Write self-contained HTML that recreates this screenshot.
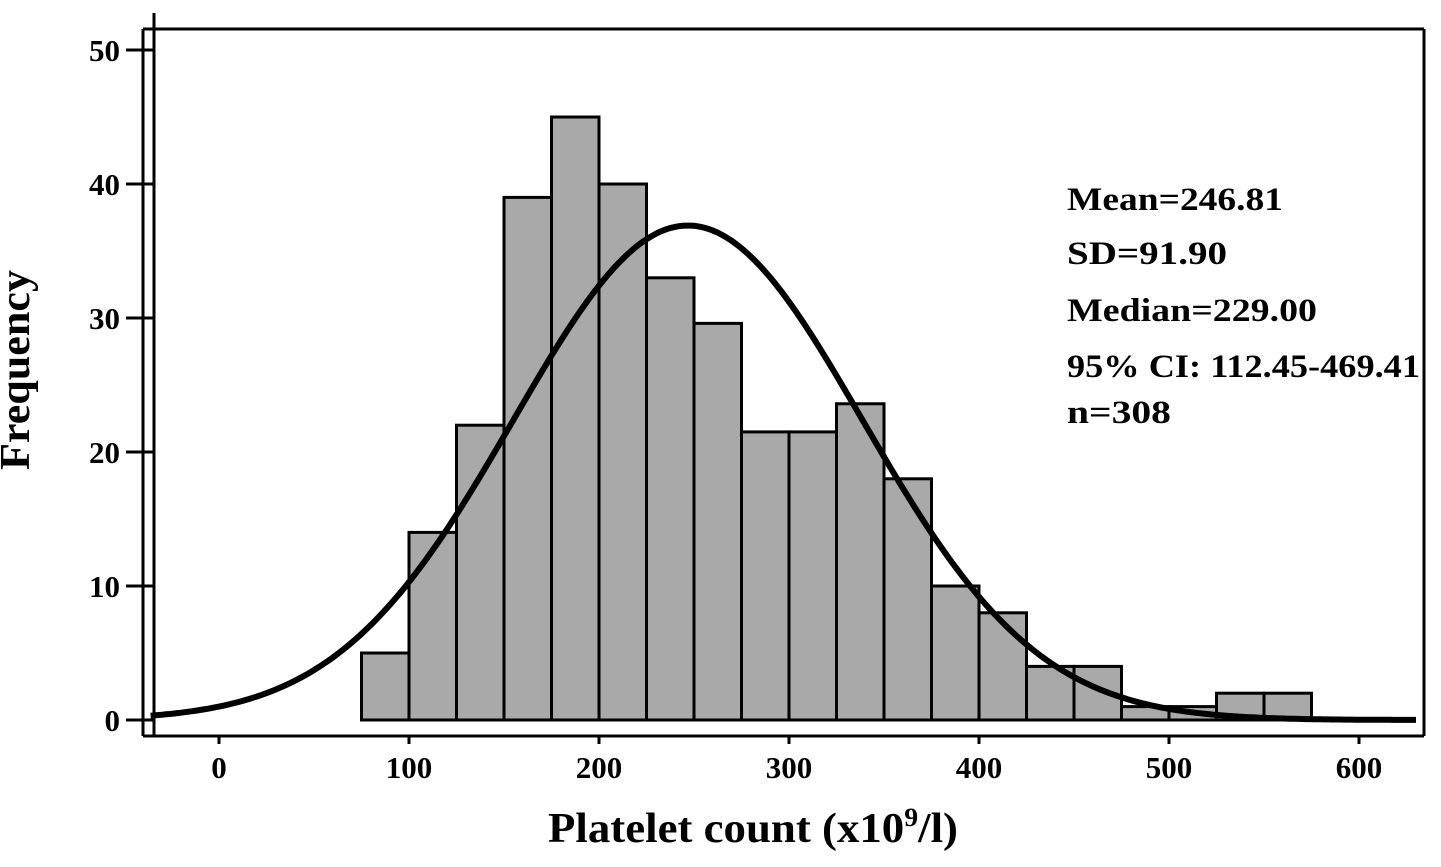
<!DOCTYPE html>
<html><head><meta charset="utf-8"><style>
body{margin:0;background:#fff;}
svg text{font-family:"Liberation Serif",serif;font-weight:bold;fill:#000;}
</style></head><body>
<svg id="chart" width="1441" height="862">
<g id="bars"></g>
<path id="curve" fill="none" stroke="#000" stroke-width="6"/>
<line x1="143" y1="29" x2="1424" y2="29" stroke="#000" stroke-width="3"/>
<line x1="1424" y1="29" x2="1424" y2="736" stroke="#000" stroke-width="3"/>
<line x1="143" y1="29" x2="143" y2="736" stroke="#000" stroke-width="3"/>
<line x1="154" y1="13" x2="154" y2="736" stroke="#000" stroke-width="3"/>
<line x1="143" y1="736" x2="1424" y2="736" stroke="#000" stroke-width="3"/>
<g id="yticks"></g>
<g id="xticks"></g>
<text x="29" y="370" font-size="42" text-anchor="middle" textLength="200" lengthAdjust="spacingAndGlyphs" transform="rotate(-90 29 370)">Frequency</text>
<text x="548" y="842" font-size="42" textLength="410" lengthAdjust="spacingAndGlyphs">Platelet count (x10<tspan font-size="26" dy="-16">9</tspan><tspan dy="16">/l)</tspan></text>
<g font-size="33">
<text x="1067" y="210" textLength="216" lengthAdjust="spacingAndGlyphs">Mean=246.81</text>
<text x="1067" y="264" textLength="160" lengthAdjust="spacingAndGlyphs">SD=91.90</text>
<text x="1067" y="321" textLength="250" lengthAdjust="spacingAndGlyphs">Median=229.00</text>
<text x="1067" y="377" textLength="353" lengthAdjust="spacingAndGlyphs">95% CI: 112.45-469.41</text>
<text x="1067" y="423" textLength="104" lengthAdjust="spacingAndGlyphs">n=308</text>
</g>
</svg>
<script>
const binStarts=[75,100,125,150,175,200,225,250,275,300,325,350,375,400,425,450,475,500,525,550];
const counts=[5,14,22,39,45,40,33,29.6,21.5,21.5,23.6,18,10,8,4,4,1,1,2,2];
const binWidth=25;
const yTicks=[0,10,20,30,40,50];
const xTicks=[0,100,200,300,400,500,600];
const mean=246.81, sd=91.9, curvePeak=36.9;
const NS='http://www.w3.org/2000/svg';
const xs=v=>219+v*1.9;
const ys=v=>720-v*13.4;
const bars=document.getElementById('bars');
binStarts.forEach((b,i)=>{
 const r=document.createElementNS(NS,'rect');
 const x0=xs(b),x1=xs(b+binWidth);
 r.setAttribute('x',x0);r.setAttribute('y',ys(counts[i]));
 r.setAttribute('width',x1-x0);r.setAttribute('height',ys(0)-ys(counts[i]));
 r.setAttribute('fill','#a9a9a9');r.setAttribute('stroke','#000');r.setAttribute('stroke-width','3');
 
 
 bars.appendChild(r);
});
let d='';
for(let v=-36;v<=630;v+=2){const y=curvePeak*Math.exp(-0.5*((v-mean)/sd)**2);d+=(d?'L':'M')+xs(v).toFixed(1)+' '+ys(y).toFixed(1);}
document.getElementById('curve').setAttribute('d',d);
const yt=document.getElementById('yticks');
yTicks.forEach(t=>{
 const l=document.createElementNS(NS,'line');
 l.setAttribute('x1',126);l.setAttribute('x2',154);l.setAttribute('y1',ys(t));l.setAttribute('y2',ys(t));
 l.setAttribute('stroke','#000');l.setAttribute('stroke-width','3');
 
 
 yt.appendChild(l);
 const tx=document.createElementNS(NS,'text');
 tx.setAttribute('x',120);tx.setAttribute('y',ys(t)+11);tx.setAttribute('text-anchor','end');tx.setAttribute('font-size','31');
 tx.textContent=t;
 
 
 yt.appendChild(tx);
});
const xt=document.getElementById('xticks');
xTicks.forEach(t=>{
 const l=document.createElementNS(NS,'line');
 l.setAttribute('x1',xs(t));l.setAttribute('x2',xs(t));l.setAttribute('y1',736);l.setAttribute('y2',744);
 l.setAttribute('stroke','#000');l.setAttribute('stroke-width','3');
 
 
 xt.appendChild(l);
 const tx=document.createElementNS(NS,'text');
 tx.setAttribute('x',xs(t));tx.setAttribute('y',778);tx.setAttribute('text-anchor','middle');tx.setAttribute('font-size','31');
 tx.textContent=t;
 
 
 xt.appendChild(tx);
});
</script>
</body></html>
